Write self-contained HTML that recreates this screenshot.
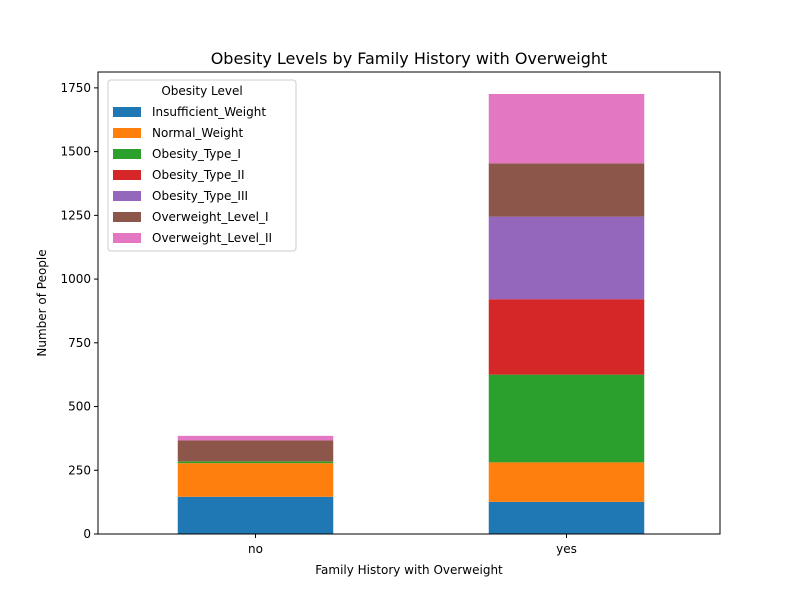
<!DOCTYPE html>
<html><head><meta charset="utf-8"><style>
body{margin:0;background:#fff;font-family:"Liberation Sans","DejaVu Sans",sans-serif}
svg text{font-family:"DejaVu Sans","Liberation Sans",sans-serif}
</style></head><body>
<svg id="chart" width="800" height="600"></svg>
<script>
const categories=["no","yes"];
const seriesNames=["Insufficient_Weight","Normal_Weight","Obesity_Type_I","Obesity_Type_II","Obesity_Type_III","Overweight_Level_I","Overweight_Level_II"];
const insufficientWeight=[146,126];
const normalWeight=[132,155];
const obesityTypeI=[7,344];
const obesityTypeII=[1,296];
const obesityTypeIII=[0,324];
const overweightLevelI=[81,209];
const overweightLevelII=[18,272];
const yTicks=[0,250,500,750,1000,1250,1500,1750];
const colors=["#1f77b4","#ff7f0e","#2ca02c","#d62728","#9467bd","#8c564b","#e377c2"];
const series=[insufficientWeight,normalWeight,obesityTypeI,obesityTypeII,obesityTypeIII,overweightLevelI,overweightLevelII];

const NS="http://www.w3.org/2000/svg";
const svg=document.getElementById('chart');
const L=98,R=720,T=72,B=534;
const yMax=1812.3;
const y=v=>B-v/yMax*(B-T);
const xu=(R-L)/2;
const x=i=>L+2+(i+0.5)*xu;
function mk(tag,attrs,parent){const e=document.createElementNS(NS,tag);for(const k in attrs)e.setAttribute(k,attrs[k]);(parent||svg).appendChild(e);return e;}
function txt(s,attrs){const e=mk('text',attrs);e.textContent=s;return e;}

categories.forEach((c,i)=>{
  let base=0;
  series.forEach((s,j)=>{
    const v=s[i];
    const r=mk('rect',{x:x(i)-xu/4,y:y(base+v),width:xu/2,height:y(base)-y(base+v),fill:colors[j]});
    
    
    base+=v;
  });
});
const frame=mk('rect',{x:L,y:T,width:R-L,height:B-T,fill:'none',stroke:'#000','stroke-width':1});


yTicks.forEach(t=>{
  mk('line',{x1:L-4,x2:L,y1:y(t),y2:y(t),stroke:'#000'});
  const e=txt(t,{x:L-7,y:y(t)+4,'text-anchor':'end','font-size':12,fill:'#000'});
  
  
});
categories.forEach((c,i)=>{
  mk('line',{x1:x(i),x2:x(i),y1:B,y2:B+4,stroke:'#000'});
  const e=txt(c,{x:x(i),y:B+19,'text-anchor':'middle','font-size':12});
  
  
});
let e=txt('Obesity Levels by Family History with Overweight',{x:(L+R)/2,y:64,'text-anchor':'middle','font-size':16});


e=txt('Family History with Overweight',{x:(L+R)/2,y:574,'text-anchor':'middle','font-size':12});


e=txt('Number of People',{x:0,y:0,'text-anchor':'middle','font-size':12,transform:'translate(46,303) rotate(-90)'});



const lg=mk('g',{});


mk('rect',{x:108,y:80,width:188,height:171,rx:3,fill:'#fff','fill-opacity':0.8,stroke:'#ccc'},lg);
const lt=mk('text',{x:202,y:95,'text-anchor':'middle','font-size':12},lg);lt.textContent='Obesity Level';
seriesNames.forEach((n,j)=>{
  const g=mk('g',{},lg);
  
  
  const yy=112+j*21;
  mk('rect',{x:113,y:yy-5,width:28,height:10,fill:colors[j]},g);
  const t=mk('text',{x:152,y:yy+4,'font-size':12},g);t.textContent=n;
});
</script>
</body></html>
